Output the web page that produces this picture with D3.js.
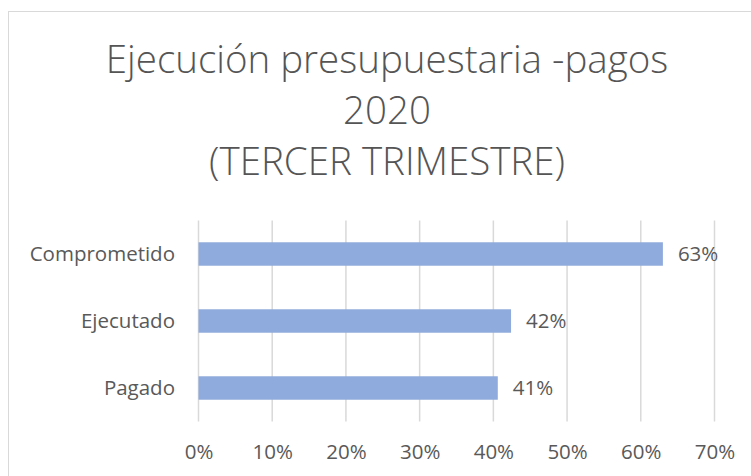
<!DOCTYPE html>
<html>
<head>
<meta charset="utf-8">
<script src="https://cdn.jsdelivr.net/npm/d3@7"></script>
<style>
  body { margin: 0; background: #fff; }
  svg text { font-family: "Open Sans", sans-serif; fill: #595959; }
</style>
</head>
<body>
<svg id="chart" width="751" height="476"></svg>
<script>
let titleLines = ['Ejecución presupuestaria -pagos', '2020', '(TERCER TRIMESTRE)']
let categories = ['Comprometido', 'Ejecutado', 'Pagado']
let values = [0.63, 0.424, 0.406]
let valueLabels = ['63%', '42%', '41%']
let tickValues = [0, 0.1, 0.2, 0.3, 0.4, 0.5, 0.6, 0.7]

let plot = {left: 198.5, right: 714.5, top: 220.5, bottom: 421.5}
let labelFont = '20.5px'

let svg = d3.select('#chart')

// chart border (runs off the right and bottom edges)
svg.append('rect')
    .attr('x', 8.5).attr('y', 11.5)
    .attr('width', 800).attr('height', 600)
    .attr('fill', 'none')
    .attr('stroke', '#d9d9d9')
    .attr('stroke-width', 1)

let x = d3.scaleLinear()
    .domain([0, 0.7])
    .range([plot.left, plot.right])

let y = d3.scaleBand()
    .domain(categories)
    .range([plot.top, plot.bottom])
    .paddingInner(0.65)
    .paddingOuter(0.325)

// title
svg.append('g').selectAll('text')
    .data(titleLines)
    .enter().append('text')
    .attr('x', 387)
    .attr('y', (d, i) => 73 + i * 51)
    .attr('text-anchor', 'middle')
    .style('font-size', '38.5px')
    .style('font-weight', 300)
    .style('fill', '#555')
    .text(d => d)

// vertical gridlines
svg.append('g').selectAll('line')
    .data(tickValues)
    .enter().append('line')
    .attr('x1', d => x(d)).attr('x2', d => x(d))
    .attr('y1', plot.top).attr('y2', plot.bottom)
    .attr('stroke', '#d9d9d9')
    .attr('stroke-width', 1.5)

// x axis labels
let xAxis = d3.axisBottom(x)
    .tickValues(tickValues)
    .tickFormat(d3.format('.0%'))
    .tickSize(0)
    .tickPadding(0)
let axisG = svg.append('g')
    .attr('transform', 'translate(0,459)')
    .call(xAxis)
axisG.select('.domain').remove()
axisG.selectAll('text')
    .attr('y', 0)
    .attr('dy', 0)
    .style('font-size', labelFont)
    .style('fill', '#595959')
    .style('font-family', '"Open Sans", sans-serif')

// category labels
let yAxis = d3.axisLeft(y).tickSize(0).tickPadding(23.5)
let yG = svg.append('g')
    .attr('transform', 'translate(' + plot.left + ',0)')
    .call(yAxis)
yG.select('.domain').remove()
yG.selectAll('text')
    .style('font-size', labelFont)
    .style('fill', '#595959')
    .style('font-family', '"Open Sans", sans-serif')

// bars
svg.append('g').selectAll('rect')
    .data(categories)
    .enter().append('rect')
    .attr('x', x(0))
    .attr('y', d => y(d))
    .attr('width', (d, i) => x(values[i]) - x(0))
    .attr('height', y.bandwidth())
    .attr('fill', '#8faadc')

// value labels
svg.append('g').selectAll('text')
    .data(categories)
    .enter().append('text')
    .attr('x', (d, i) => x(values[i]) + 15)
    .attr('y', d => y(d) + y.bandwidth() / 2)
    .attr('dy', '0.35em')
    .style('font-size', labelFont)
    .text((d, i) => valueLabels[i])
</script>
</body>
</html>
